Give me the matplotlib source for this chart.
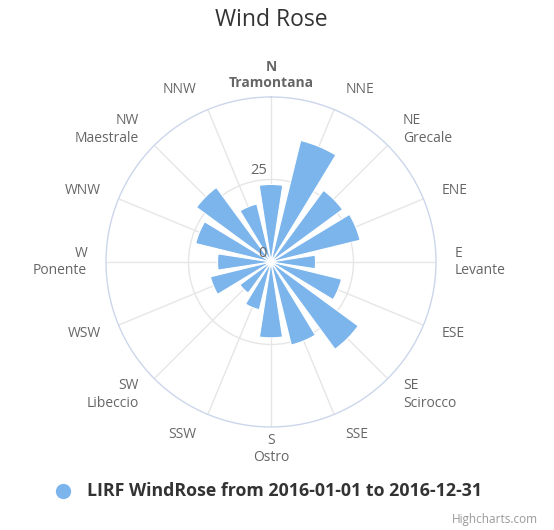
import numpy as np
import matplotlib
matplotlib.use('Agg')
import matplotlib.pyplot as plt

plt.rcParams.update({
    "font.family": ["Open Sans", "DejaVu Sans"],
})

# ── Data ───────────────────────────────────────────────────────────────────
DIRECTIONS = ["N", "NNE", "NE", "ENE", "E", "ESE", "SE", "SSE",
              "S", "SSW", "SW", "WSW", "W", "WNW", "NW", "NNW"]
DIR_LABELS = ["N\nTramontana", "NNE", "NE\nGrecale", "ENE", "E\nLevante", "ESE",
              "SE\nScirocco", "SSE", "S\nOstro", "SSW", "SW\nLibeccio", "WSW",
              "W\nPonente", "WNW", "NW\nMaestrale", "NNW"]
FREQ = [23.5, 37.9, 26.9, 27.8, 13.5, 22.0, 32.8, 25.9,
        23.0, 14.9, 11.7, 18.9, 16.2, 23.5, 28.0, 18.1]
R_TICKS = [0, 25]
R_MAX = 50
SERIES_NAME = "LIRF WindRose from 2016-01-01 to 2016-12-31"

BAR_COLOR = "#7cb5ec"
GRID_COLOR = "#e6e6e6"
TEXT_COLOR = "#666666"

# ── Figure ─────────────────────────────────────────────────────────────────
fig = plt.figure(figsize=(5.54, 5.30), dpi=100)
ax = fig.add_axes([0.1913, 0.1944, 0.5957, 0.6226], projection="polar")
ax.set_theta_zero_location("N")
ax.set_theta_direction(-1)
ax.set_ylim(0, R_MAX)

theta = np.deg2rad(np.arange(len(DIRECTIONS)) * 22.5)
ax.bar(theta, FREQ, width=np.deg2rad(17.5), color=BAR_COLOR,
       edgecolor="white", linewidth=0.8, zorder=3)

# grid
ax.set_xticks(theta)
ax.set_xticklabels([])
ax.set_yticks([25])
ax.set_yticklabels([])
ax.grid(True, color=GRID_COLOR, linewidth=1.0, linestyle="-")
ax.spines["polar"].set_color("#ccd6eb")
ax.spines["polar"].set_linewidth(1.0)

# direction labels
r_lab = R_MAX * 177 / 165
for t, lab in zip(theta, DIR_LABELS):
    s, c = np.sin(t), np.cos(t)
    if s > 0.1:
        ha, dx = "left", 5
    elif s < -0.1:
        ha, dx = "right", -5
    else:
        ha, dx = "center", 0
    dy = 7.2 * c
    weight = "bold" if lab.startswith("N\n") else "normal"
    ax.annotate(lab, xy=(t, r_lab), xytext=(dx, dy), textcoords="offset points",
                ha=ha, va="center", fontsize=10, color=TEXT_COLOR,
                fontweight=weight, linespacing=1.25, annotation_clip=False)

# radial labels
for rv in R_TICKS:
    ax.annotate(str(rv), xy=(0, rv), xytext=(-3, 1), textcoords="offset points",
                ha="right", va="bottom", fontsize=10.5, color=TEXT_COLOR,
                annotation_clip=False, zorder=4)

# title
fig.text(0.489, 0.962, "Wind Rose", ha="center", va="center",
         fontsize=16.5, color="#333333")

# legend
fig.lines.append(plt.Line2D([63 / 554], [1 - 491 / 530], marker="o",
                            markersize=10, color=BAR_COLOR, linestyle="none",
                            transform=fig.transFigure))
fig.text(87 / 554, 1 - 491 / 530, SERIES_NAME, ha="left", va="center",
         fontsize=12.8, fontweight="bold", color="#333333")

# credits
fig.text(538 / 554, 1 - 519 / 530, "Highcharts.com", ha="right", va="center",
         fontsize=8.5, color="#999999")

plt.savefig("out.png", dpi=100)
plt.close()
